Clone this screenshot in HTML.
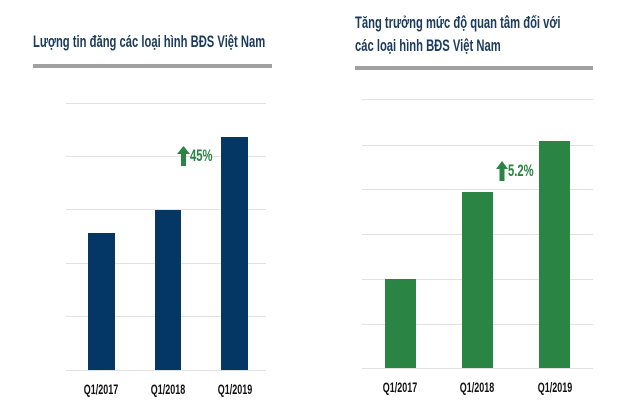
<!DOCTYPE html>
<html><head><meta charset="utf-8"><style>
body{margin:0;width:640px;height:411px;background:#fff;position:relative;overflow:hidden;font-family:"Liberation Sans",sans-serif;font-weight:bold}
div{position:absolute}
.t{color:#1b3a5c;font-size:17px;white-space:nowrap;transform:scaleX(0.66);transform-origin:0 0}
.g{height:1px;background:#e2e2e2}
.l{font-size:14px;color:#111;width:60px;text-align:center;transform:scaleX(0.64)}
.p{font-size:17px;color:#2a8443;transform:scaleX(0.66);transform-origin:0 0}
.nb{background:#043763}
.gb{background:#2a8443}
</style></head><body>
<div class="t" style="left:33px;top:32px">Lượng tin đăng các loại hình BĐS Việt Nam</div>
<div style="left:33px;top:64px;width:239px;height:4px;background:#a0a0a0"></div>
<div class="g" style="left:66px;top:103px;width:200px"></div>
<div class="g" style="left:66px;top:156px;width:200px"></div>
<div class="g" style="left:66px;top:209px;width:200px"></div>
<div class="g" style="left:66px;top:263px;width:200px"></div>
<div class="g" style="left:66px;top:316px;width:200px"></div>
<div class="g" style="left:66px;top:370px;width:200px"></div>
<div class="nb" style="left:88px;top:233px;width:27px;height:137px"></div>
<div class="nb" style="left:155px;top:210px;width:26px;height:160px"></div>
<div class="nb" style="left:221px;top:137px;width:27px;height:233px"></div>
<svg style="position:absolute;left:177px;top:146px" width="13" height="20"><polygon points="6.5,0 13,8 9,8 9,20 4,20 4,8 0,8" fill="#2a8443"/></svg>
<div class="p" style="left:190px;top:146px">45%</div>
<div class="l" style="left:71px;top:381px">Q1/2017</div>
<div class="l" style="left:138px;top:381px">Q1/2018</div>
<div class="l" style="left:205px;top:381px">Q1/2019</div>

<div class="t" style="left:355px;top:13px">Tăng trưởng mức độ quan tâm đối với</div>
<div class="t" style="left:355px;top:36px">các loại hình BĐS Việt Nam</div>
<div style="left:355px;top:66px;width:238px;height:4px;background:#a0a0a0"></div>
<div class="g" style="left:362px;top:99px;width:231px"></div>
<div class="g" style="left:362px;top:145px;width:231px"></div>
<div class="g" style="left:362px;top:189px;width:231px"></div>
<div class="g" style="left:362px;top:234px;width:231px"></div>
<div class="g" style="left:362px;top:279px;width:231px"></div>
<div class="g" style="left:362px;top:324px;width:231px"></div>
<div class="g" style="left:362px;top:368px;width:231px"></div>
<div class="gb" style="left:385px;top:279px;width:31px;height:89px"></div>
<div class="gb" style="left:462px;top:192px;width:31px;height:176px"></div>
<div class="gb" style="left:539px;top:141px;width:31px;height:227px"></div>
<svg style="position:absolute;left:496px;top:161px" width="12" height="20"><polygon points="6,0 12,8 8.5,8 8.5,20 3.5,20 3.5,8 0,8" fill="#2a8443"/></svg>
<div class="p" style="left:508px;top:161px">5.2%</div>
<div class="l" style="left:370px;top:379px">Q1/2017</div>
<div class="l" style="left:447px;top:379px">Q1/2018</div>
<div class="l" style="left:525px;top:379px">Q1/2019</div>
</body></html>
